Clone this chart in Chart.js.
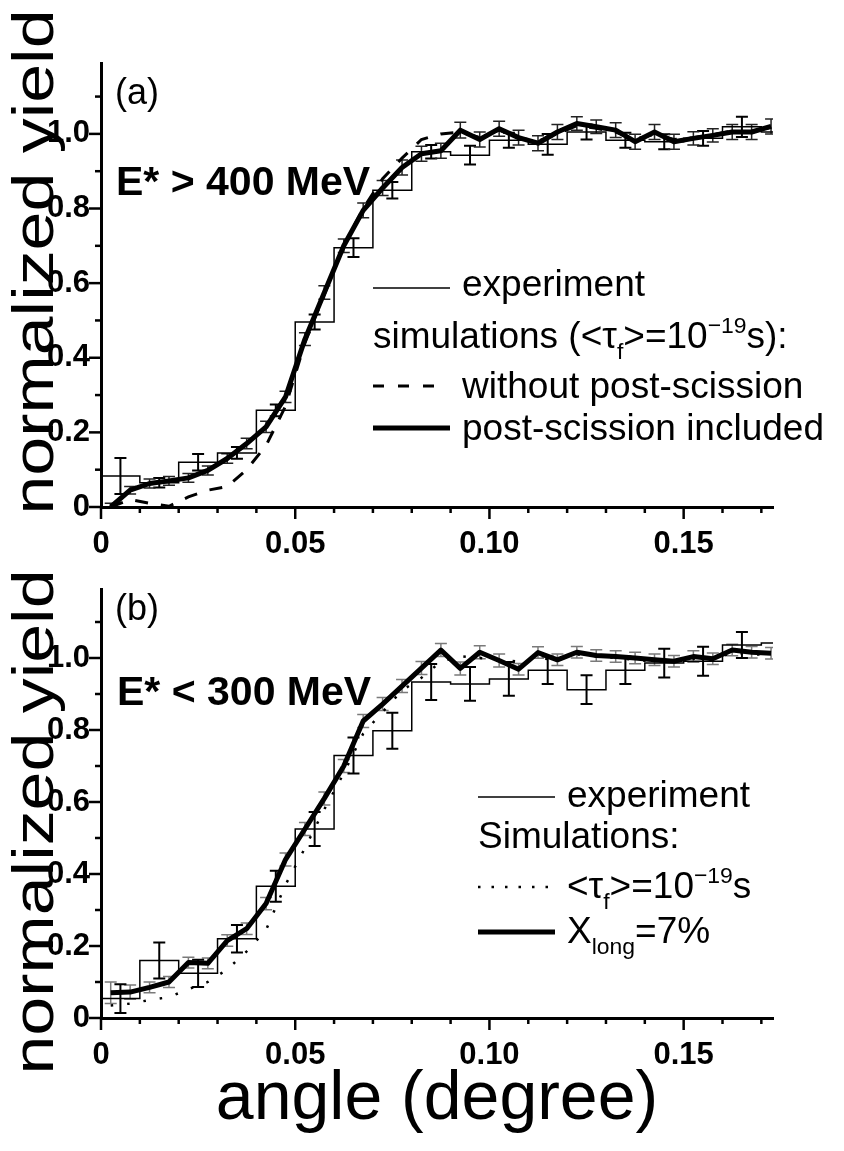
<!DOCTYPE html>
<html>
<head>
<meta charset="utf-8">
<script src="https://cdn.jsdelivr.net/npm/chart.js@4.4.1/dist/chart.umd.min.js"></script>
<style>
  html, body { margin: 0; padding: 0; background: #fff; }
  #wrap { position: relative; width: 844px; height: 1151px; }
  .panel { position: absolute; left: 0; width: 844px; }
</style>
</head>
<body>
<div id="wrap">
  <div class="panel" style="top:0;height:560px"><canvas id="topChart"></canvas></div>
  <div class="panel" style="top:560px;height:591px"><canvas id="botChart"></canvas></div>
</div>
<script>
const FONT = "'Liberation Sans', Arial, Helvetica, sans-serif";

// experiment, bin centres (bins 0.01 deg wide)
const expAngle = [0.005, 0.015, 0.025, 0.035, 0.045, 0.055, 0.065, 0.075, 0.085, 0.095, 0.105, 0.115, 0.125, 0.135, 0.145, 0.155, 0.165, 0.175];
const BIN_HALF = 0.005;
const expTopYield = [0.083, 0.065, 0.120, 0.145, 0.259, 0.496, 0.695, 0.849, 0.952, 0.943, 0.983, 0.972, 1.005, 0.983, 0.979, 0.988, 1.019, 1.005];
const expTopErr = [0.048, 0.013, 0.022, 0.016, 0.016, 0.020, 0.025, 0.022, 0.018, 0.025, 0.020, 0.028, 0.020, 0.020, 0.020, 0.020, 0.027, 0.020];
const expBotYield = [0.054, 0.160, 0.124, 0.220, 0.366, 0.525, 0.729, 0.798, 0.933, 0.928, 0.942, 0.966, 0.912, 0.966, 0.986, 0.991, 1.036, 1.042];
const expBotErr = [0.040, 0.050, 0.038, 0.038, 0.043, 0.047, 0.050, 0.050, 0.050, 0.047, 0.047, 0.038, 0.040, 0.038, 0.040, 0.040, 0.036, 0.036];

// simulations
const simAngle = [0.0025, 0.0075, 0.0125, 0.0175, 0.0225, 0.0275, 0.0325, 0.0375, 0.0425, 0.0475,
                  0.0525, 0.0575, 0.0625, 0.0675, 0.0725, 0.0775, 0.0825, 0.0875, 0.0925, 0.0975,
                  0.1025, 0.1075, 0.1125, 0.1175, 0.1225, 0.1275, 0.1325, 0.1375, 0.1425, 0.1475,
                  0.1525, 0.1575, 0.1625, 0.1675, 0.1725];
const simTopPost = [0.000, 0.045, 0.063, 0.070, 0.078, 0.098, 0.130, 0.170, 0.215, 0.295,
                    0.450, 0.575, 0.700, 0.795, 0.855, 0.910, 0.947, 0.955, 1.010, 0.985,
                    1.014, 0.990, 0.975, 1.005, 1.028, 1.019, 1.010, 0.979, 1.005, 0.979,
                    0.988, 0.996, 1.005, 1.005, 1.020];
const simTopPostErr = [0.010, 0.010, 0.012, 0.012, 0.012, 0.012, 0.013, 0.014, 0.015, 0.015,
                       0.017, 0.018, 0.018, 0.020, 0.020, 0.020, 0.020, 0.020, 0.021, 0.020,
                       0.020, 0.020, 0.020, 0.020, 0.018, 0.018, 0.020, 0.020, 0.020, 0.020,
                       0.018, 0.018, 0.020, 0.020, 0.020];
const simTopNoPost = [0.000, 0.020, 0.010, 0.002, 0.027, 0.045, 0.055, 0.100, 0.165, 0.270,
                      0.440, 0.570, 0.700, 0.800, 0.880, 0.935, 0.985, 1.000, 1.005, 0.990,
                      1.010, 0.990, 0.980, 1.000, 1.022, 1.015, 1.005, 0.985, 1.000, 0.985,
                      0.990, 0.998, 1.008, 1.003, 1.018];
const simBotTau = [0.035, 0.040, 0.050, 0.058, 0.080, 0.100, 0.135, 0.185, 0.245, 0.370,
                   0.472, 0.580, 0.680, 0.790, 0.850, 0.910, 0.945, 0.990, 1.005, 1.000,
                   0.995, 0.990, 1.000, 0.995, 1.010, 1.005, 1.000, 0.995, 0.990, 0.990,
                   0.998, 0.995, 1.015, 1.010, 1.010];
const simBotXlong = [0.070, 0.072, 0.085, 0.100, 0.154, 0.152, 0.215, 0.248, 0.318, 0.440,
                     0.525, 0.610, 0.700, 0.825, 0.872, 0.922, 0.972, 1.022, 0.971, 1.016,
                     0.993, 0.969, 1.015, 0.995, 1.016, 1.007, 1.004, 1.000, 0.995, 0.991,
                     1.004, 0.998, 1.022, 1.016, 1.013];
const simBotXlongErr = [0.030, 0.020, 0.015, 0.015, 0.015, 0.015, 0.016, 0.016, 0.017, 0.018,
                        0.018, 0.018, 0.018, 0.018, 0.018, 0.018, 0.018, 0.018, 0.018, 0.018,
                        0.018, 0.016, 0.016, 0.016, 0.016, 0.016, 0.016, 0.016, 0.016, 0.016,
                        0.016, 0.016, 0.016, 0.016, 0.016];

// axes
const xMajor = [0, 0.05, 0.10, 0.15];
const xLabels = ['0', '0.05', '0.10', '0.15'];
const xMinor = [0.01, 0.02, 0.03, 0.04, 0.06, 0.07, 0.08, 0.09, 0.11, 0.12, 0.13, 0.14, 0.16, 0.17];
const yMajor = [0, 0.2, 0.4, 0.6, 0.8, 1.0];
const yLabels = ['0', '0.2', '0.4', '0.6', '0.8', '1.0'];
const yMinor = [0.1, 0.3, 0.5, 0.7, 0.9, 1.1];
const X_MAX = 0.173;
const Y_MAX = 1.19;

function majorIndex(v, majors) {
  return majors.findIndex(m => Math.abs(m - v) < 1e-9);
}

function pts(xs, ys) {
  return xs.map((x, i) => ({ x: x, y: ys[i] }));
}

function histPoints(centres, values) {
  const out = centres.map((c, i) => ({ x: c - BIN_HALF, y: values[i] }));
  out.push({ x: centres[centres.length - 1] + BIN_HALF, y: values[values.length - 1] });
  return out;
}

// draws text made of runs (plain / sub / sup)
function drawRuns(ctx, x, y, runs, size, bold) {
  let cx = x;
  runs.forEach(r => {
    const s = r.sub || r.sup ? size * 0.62 : size;
    const dy = r.sub ? size * 0.3 : (r.sup ? -size * 0.4 : 0);
    ctx.font = (bold ? 'bold ' : '') + s + 'px ' + FONT;
    ctx.fillText(r.t, cx, y + dy);
    cx += ctx.measureText(r.t).width;
  });
}

const panelDecor = {
  id: 'panelDecor',
  beforeDatasetsDraw(chart, args, o) {
    const { ctx, chartArea: ca, scales: { x, y } } = chart;
    ctx.save();
    ctx.beginPath();
    ctx.rect(ca.left, ca.top - 20, ca.width, ca.height + 20);
    ctx.clip();
    (o.errorBars || []).forEach(set => {
      ctx.strokeStyle = set.color;
      ctx.lineWidth = set.width;
      set.x.forEach((xv, i) => {
        if (xv > X_MAX) return;
        const px = x.getPixelForValue(xv);
        const y1 = y.getPixelForValue(set.y[i] - set.e[i]);
        const y2 = y.getPixelForValue(set.y[i] + set.e[i]);
        ctx.beginPath();
        ctx.moveTo(px, y1); ctx.lineTo(px, y2);
        ctx.moveTo(px - set.cap, y1); ctx.lineTo(px + set.cap, y1);
        ctx.moveTo(px - set.cap, y2); ctx.lineTo(px + set.cap, y2);
        ctx.stroke();
      });
    });
    ctx.restore();
  },
  afterDraw(chart, args, o) {
    const { ctx, chartArea: ca, scales: { x, y } } = chart;
    ctx.save();
    ctx.strokeStyle = '#000';
    ctx.fillStyle = '#000';
    ctx.lineWidth = 2.5;
    // outward tick marks
    x.ticks.forEach(t => {
      const px = x.getPixelForValue(t.value);
      const len = majorIndex(t.value, xMajor) >= 0 ? 12 : 6;
      ctx.beginPath(); ctx.moveTo(px, ca.bottom); ctx.lineTo(px, ca.bottom + len); ctx.stroke();
    });
    y.ticks.forEach(t => {
      const py = y.getPixelForValue(t.value);
      const len = majorIndex(t.value, yMajor) >= 0 ? 12 : 6;
      ctx.beginPath(); ctx.moveTo(ca.left, py); ctx.lineTo(ca.left - len, py); ctx.stroke();
    });

    // legend samples
    (o.samples || []).forEach(s => {
      ctx.lineWidth = s.w;
      ctx.setLineDash(s.dash || []);
      ctx.beginPath(); ctx.moveTo(s.x1, s.y); ctx.lineTo(s.x2, s.y); ctx.stroke();
    });
    ctx.setLineDash([]);

    // texts
    ctx.textAlign = 'left';
    ctx.textBaseline = 'alphabetic';
    (o.texts || []).forEach(tx => drawRuns(ctx, tx.x, tx.y, tx.runs, tx.size, tx.bold));

    // y title, stretched along the axis like the original
    ctx.translate(53, 262);
    ctx.rotate(-Math.PI / 2);
    ctx.font = '58px ' + FONT;
    ctx.textAlign = 'center';
    const w = ctx.measureText('normalized yield').width;
    ctx.scale(505 / w, 1);
    ctx.fillText('normalized yield', 0, 0);
    ctx.restore();
  }
};

function makeScales(xAxisHeight, xTitle) {
  return {
    x: {
      type: 'linear', min: 0, max: X_MAX,
      afterBuildTicks: s => { s.ticks = xMajor.concat(xMinor).sort((a, b) => a - b).map(v => ({ value: v })); },
      afterFit: s => { s.height = xAxisHeight; },
      grid: { display: false, drawTicks: false },
      border: { display: true, width: 3, color: '#000' },
      ticks: {
        autoSkip: false, maxRotation: 0, padding: 19, color: '#000',
        font: { family: FONT, size: 31, weight: 'bold' },
        callback: v => { const i = majorIndex(v, xMajor); return i >= 0 ? xLabels[i] : ''; }
      },
      title: xTitle
    },
    y: {
      type: 'linear', min: 0, max: Y_MAX,
      afterBuildTicks: s => { s.ticks = yMajor.concat(yMinor).sort((a, b) => a - b).map(v => ({ value: v })); },
      afterFit: s => { s.width = 101; },
      grid: { display: false, drawTicks: false },
      border: { display: true, width: 3, color: '#000' },
      ticks: {
        autoSkip: false, padding: 11, color: '#000',
        font: { family: FONT, size: 31, weight: 'bold' },
        callback: v => { const i = majorIndex(v, yMajor); return i >= 0 ? yLabels[i] : ''; }
      }
    }
  };
}

const baseLine = { pointRadius: 0, fill: false, borderColor: '#000', tension: 0 };

// top panel (a)
new Chart(document.getElementById('topChart'), {
  type: 'line',
  data: {
    datasets: [
      Object.assign({ label: 'post-scission included', data: pts(simAngle, simTopPost), borderWidth: 5, borderJoinStyle: 'round' }, baseLine),
      Object.assign({ label: 'without post-scission', data: pts(simAngle, simTopNoPost), borderWidth: 3, borderDash: [13, 13] }, baseLine),
      Object.assign({ label: 'experiment', data: histPoints(expAngle, expTopYield), borderWidth: 1.5, stepped: 'before' }, baseLine)
    ]
  },
  options: {
    responsive: true,
    maintainAspectRatio: false,
    animation: false,
    layout: { padding: { top: 63, right: 71, left: 0, bottom: 0 } },
    scales: makeScales(53, { display: false }),
    plugins: {
      legend: { display: false },
      tooltip: { enabled: false },
      panelDecor: {
        errorBars: [
          { x: expAngle, y: expTopYield, e: expTopErr, color: '#000', width: 2, cap: 6 },
          { x: simAngle, y: simTopPost, e: simTopPostErr, color: '#222', width: 1.5, cap: 6 }
        ],
        samples: [
          { x1: 373, x2: 450, y: 288, w: 1.5 },
          { x1: 373, x2: 445, y: 386, w: 3, dash: [11, 14] },
          { x1: 373, x2: 450, y: 428, w: 5 }
        ],
        texts: [
          { x: 115, y: 104, size: 36, runs: [{ t: '(a)' }] },
          { x: 116, y: 195, size: 41, bold: true, runs: [{ t: 'E* > 400 MeV' }] },
          { x: 462, y: 296, size: 37, runs: [{ t: 'experiment' }] },
          { x: 373, y: 348, size: 37, runs: [{ t: 'simulations (<τ' }, { t: 'f', sub: true }, { t: '>=10' }, { t: '−19', sup: true }, { t: 's):' }] },
          { x: 462, y: 398, size: 37, runs: [{ t: 'without post-scission' }] },
          { x: 462, y: 440, size: 37, runs: [{ t: 'post-scission included' }] }
        ]
      }
    }
  },
  plugins: [panelDecor]
});

// bottom panel (b)
new Chart(document.getElementById('botChart'), {
  type: 'line',
  data: {
    datasets: [
      Object.assign({ label: 'X_long=7%', data: pts(simAngle, simBotXlong), borderWidth: 5, borderJoinStyle: 'round' }, baseLine),
      Object.assign({ label: '<tau_f>=1e-19 s', data: pts(simAngle, simBotTau), borderWidth: 2.5, borderDash: [2.5, 14] }, baseLine),
      Object.assign({ label: 'experiment', data: histPoints(expAngle, expBotYield), borderWidth: 1.5, stepped: 'before' }, baseLine)
    ]
  },
  options: {
    responsive: true,
    maintainAspectRatio: false,
    animation: false,
    layout: { padding: { top: 12, right: 71, left: 0, bottom: 0 } },
    scales: makeScales(133, {
      display: true, text: 'angle (degree)', color: '#000',
      font: { family: FONT, size: 68, lineHeight: 1.2 },
      padding: { top: 0, bottom: 10 }
    }),
    plugins: {
      legend: { display: false },
      tooltip: { enabled: false },
      panelDecor: {
        errorBars: [
          { x: simAngle, y: simBotXlong, e: simBotXlongErr, color: '#7a7a7a', width: 1.5, cap: 6 },
          { x: expAngle, y: expBotYield, e: expBotErr, color: '#000', width: 2, cap: 6 }
        ],
        samples: [
          { x1: 478, x2: 555, y: 237, w: 1.5 },
          { x1: 478, x2: 550, y: 327, w: 2.5, dash: [2.5, 11] },
          { x1: 478, x2: 555, y: 372, w: 5 }
        ],
        texts: [
          { x: 115, y: 60, size: 36, runs: [{ t: '(b)' }] },
          { x: 117, y: 145, size: 41, bold: true, runs: [{ t: 'E* < 300 MeV' }] },
          { x: 567, y: 247, size: 37, runs: [{ t: 'experiment' }] },
          { x: 478, y: 288, size: 37, runs: [{ t: 'Simulations:' }] },
          { x: 567, y: 338, size: 37, runs: [{ t: '<τ' }, { t: 'f', sub: true }, { t: '>=10' }, { t: '−19', sup: true }, { t: 's' }] },
          { x: 567, y: 383, size: 37, runs: [{ t: 'X' }, { t: 'long', sub: true }, { t: '=7%' }] }
        ]
      }
    }
  },
  plugins: [panelDecor]
});
</script>
</body>
</html>
